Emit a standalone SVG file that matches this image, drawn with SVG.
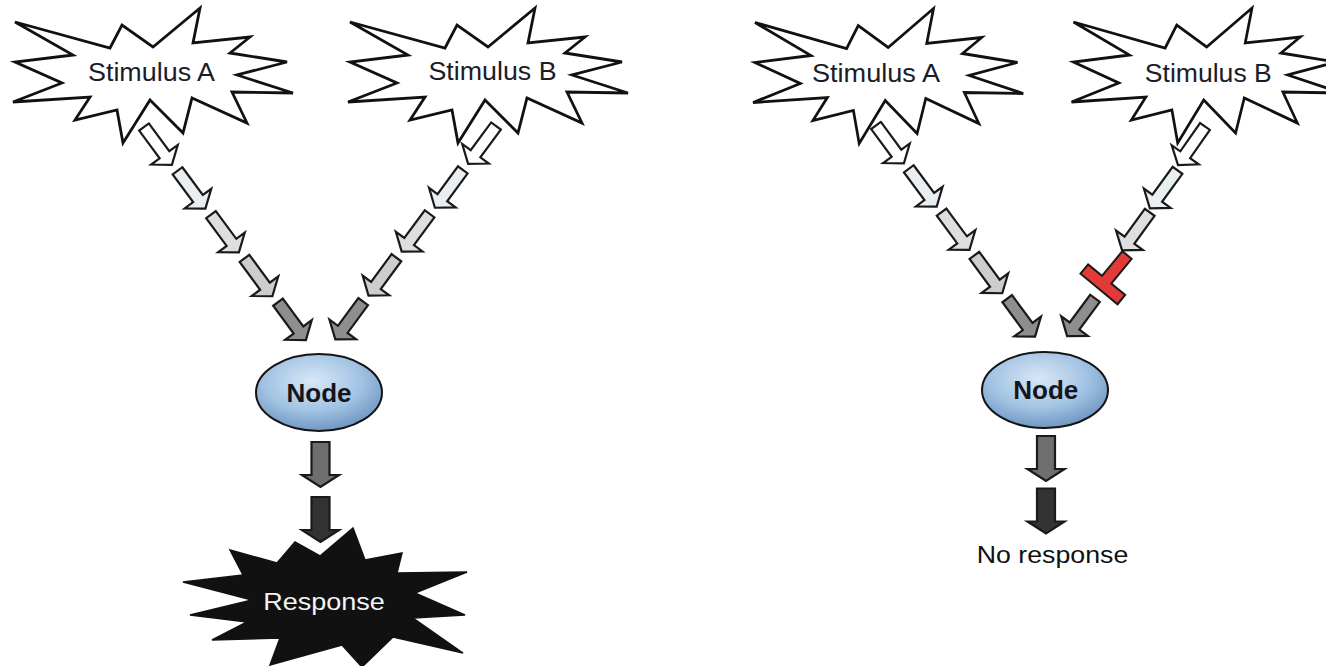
<svg xmlns="http://www.w3.org/2000/svg" xmlns:xlink="http://www.w3.org/1999/xlink" width="1326" height="666" viewBox="0 0 1326 666">
<style>
.star{fill:#fff;stroke:#111;stroke-width:2.8;stroke-linejoin:miter}
.lbl{font-family:"Liberation Sans",Arial,sans-serif;font-size:25px;fill:#1c1c28;text-anchor:middle}
.nodeTxt{font-family:"Liberation Sans",Arial,sans-serif;font-size:25px;font-weight:bold;fill:#15151f;text-anchor:middle}
.arr{stroke:#1a1a1a;stroke-width:2.2;stroke-linejoin:miter}
.c1{fill:#ffffff}.c2{fill:#e9eff0}.c3{fill:#dedede}.c4{fill:#cdcdcd}.c5{fill:#8e8e8e}.c6{fill:#6e6e6e}.c7{fill:#333333}
.block{fill:#e23a38;stroke:#1a1a1a;stroke-width:2}
</style>
<defs>
<path id="starShape" d="M15,22 L110,48 L122,25 L153,47 L200,8 L193,43 L250,37 L230,53 L287,62 L237,75 L293,93 L232,92 L247,123 L192,98 L183,133 L150,100 L123,143 L117,110 L75,120 L90,97 L13,102 L62,83 L15,62 L73,55 Z"/>
<path id="arr" d="M0,-6 H34.5 V-16.5 L47,0 L34.5,16.5 V6 H0 Z"/>
<path id="darr" d="M-9,0 V33 H-18.5 L0,45 L18.5,33 H9 V0 Z"/>
<path id="tbar" d="M0,-6 H32 V-24 H44 V24 H32 V6 H0 Z"/>
<radialGradient id="nodeGrad" cx="0.45" cy="0.35" r="0.7">
<stop offset="0" stop-color="#d8e8f6"/>
<stop offset="0.55" stop-color="#a2c3e3"/>
<stop offset="1" stop-color="#6790bd"/>
</radialGradient>
</defs>

<g id="stimulusA-left">
<use xlink:href="#starShape" href="#starShape" class="star"/>
<text class="lbl" x="151.5" y="81" textLength="127" lengthAdjust="spacingAndGlyphs">Stimulus A</text>
</g>
<g id="stimulusB-left">
<use xlink:href="#starShape" href="#starShape" class="star" transform="translate(335,0)"/>
<text class="lbl" x="492.5" y="80" textLength="128" lengthAdjust="spacingAndGlyphs">Stimulus B</text>
</g>
<g id="stimulusA-right">
<use xlink:href="#starShape" href="#starShape" class="star" vector-effect="non-scaling-stroke" transform="matrix(0.965,0,0,1,740.5,0.5)"/>
<text class="lbl" x="876" y="82" textLength="128" lengthAdjust="spacingAndGlyphs">Stimulus A</text>
</g>
<g id="stimulusB-right">
<use xlink:href="#starShape" href="#starShape" class="star" vector-effect="non-scaling-stroke" transform="matrix(0.965,0,0,1,1059,0)"/>
<text class="lbl" x="1208.3" y="81.5" textLength="127" lengthAdjust="spacingAndGlyphs">Stimulus B</text>
</g>

<g id="node-left">
<ellipse cx="319" cy="395" rx="62" ry="37" fill="#d8d8d8" opacity="0.5"/>
<ellipse cx="319" cy="392.5" rx="63" ry="38.5" fill="url(#nodeGrad)" stroke="#141414" stroke-width="2"/>
<text class="nodeTxt" x="319" y="401.5" textLength="65" lengthAdjust="spacingAndGlyphs">Node</text>
</g>
<g id="node-right">
<ellipse cx="1045" cy="392.5" rx="62" ry="37" fill="#d8d8d8" opacity="0.5"/>
<ellipse cx="1045" cy="390" rx="63" ry="38" fill="url(#nodeGrad)" stroke="#141414" stroke-width="2"/>
<text class="nodeTxt" x="1045.8" y="399" textLength="65" lengthAdjust="spacingAndGlyphs">Node</text>
</g>

<g id="response">
<path d="M183,582 L243,575 L230,550 L277,563 L295,542 L320,556 L353,528 L365,560 L402,553 L397,573 L467,572 L415,593 L465,615 L413,618 L463,653 L393,637 L362,667 L342,645 L270,665 L280,638 L212,640 L247,622 L190,615 L252,600 Z" fill="#111" stroke="#111" stroke-width="1.5" stroke-linejoin="miter"/>
<text class="lbl" x="324" y="609.5" style="fill:#f4f4f4;font-size:24px" textLength="121.7" lengthAdjust="spacingAndGlyphs">Response</text>
</g>
<g id="no-response">
<text class="lbl" x="1052.5" y="563.3" style="font-size:23px;fill:#111" textLength="151.5" lengthAdjust="spacingAndGlyphs">No response</text>
</g>

<g id="connectors">
<use href="#arr" xlink:href="#arr" class="arr c1" transform="translate(144,127) rotate(53.6)"/>
<use href="#arr" xlink:href="#arr" class="arr c2" transform="translate(177.5,170.8) rotate(53.6)"/>
<use href="#arr" xlink:href="#arr" class="arr c3" transform="translate(211,214.6) rotate(53.6)"/>
<use href="#arr" xlink:href="#arr" class="arr c4" transform="translate(244.5,258.4) rotate(53.6)"/>
<use href="#arr" xlink:href="#arr" class="arr c5" transform="translate(278,302.2) rotate(53.6)"/>
<use href="#arr" xlink:href="#arr" class="arr c1" transform="translate(496,126) rotate(126.4)"/>
<use href="#arr" xlink:href="#arr" class="arr c2" transform="translate(462.8,169.9) rotate(126.4)"/>
<use href="#arr" xlink:href="#arr" class="arr c3" transform="translate(429.6,213.8) rotate(126.4)"/>
<use href="#arr" xlink:href="#arr" class="arr c4" transform="translate(396.4,257.7) rotate(126.4)"/>
<use href="#arr" xlink:href="#arr" class="arr c5" transform="translate(363.2,301.6) rotate(126.4)"/>
<use href="#darr" xlink:href="#darr" class="arr c6" transform="translate(320.5,442)"/>
<use href="#darr" xlink:href="#darr" class="arr c7" transform="translate(320.5,497)"/>
<use href="#arr" xlink:href="#arr" class="arr c1" transform="translate(876,125.5) rotate(53.6)"/>
<use href="#arr" xlink:href="#arr" class="arr c2" transform="translate(908.8,168.8) rotate(53.6)"/>
<use href="#arr" xlink:href="#arr" class="arr c3" transform="translate(941.6,212.1) rotate(53.6)"/>
<use href="#arr" xlink:href="#arr" class="arr c4" transform="translate(974.4,255.4) rotate(53.6)"/>
<use href="#arr" xlink:href="#arr" class="arr c5" transform="translate(1007.2,298.7) rotate(53.6)"/>
<use href="#arr" xlink:href="#arr" class="arr c1" transform="translate(1205,126.5) rotate(125)"/>
<use href="#arr" xlink:href="#arr" class="arr c2" transform="translate(1177.5,170.3) rotate(126)"/>
<use href="#arr" xlink:href="#arr" class="arr c3" transform="translate(1149.7,212.3) rotate(126)"/>
<use href="#tbar" xlink:href="#tbar" class="block" transform="translate(1127,255) rotate(129.5)"/>
<use href="#arr" xlink:href="#arr" class="arr c5" transform="translate(1095,298.3) rotate(126.4)"/>
<use href="#darr" xlink:href="#darr" class="arr c6" transform="translate(1046,436)"/>
<use href="#darr" xlink:href="#darr" class="arr c7" transform="translate(1046,488.5)"/>
</g>
</svg>
